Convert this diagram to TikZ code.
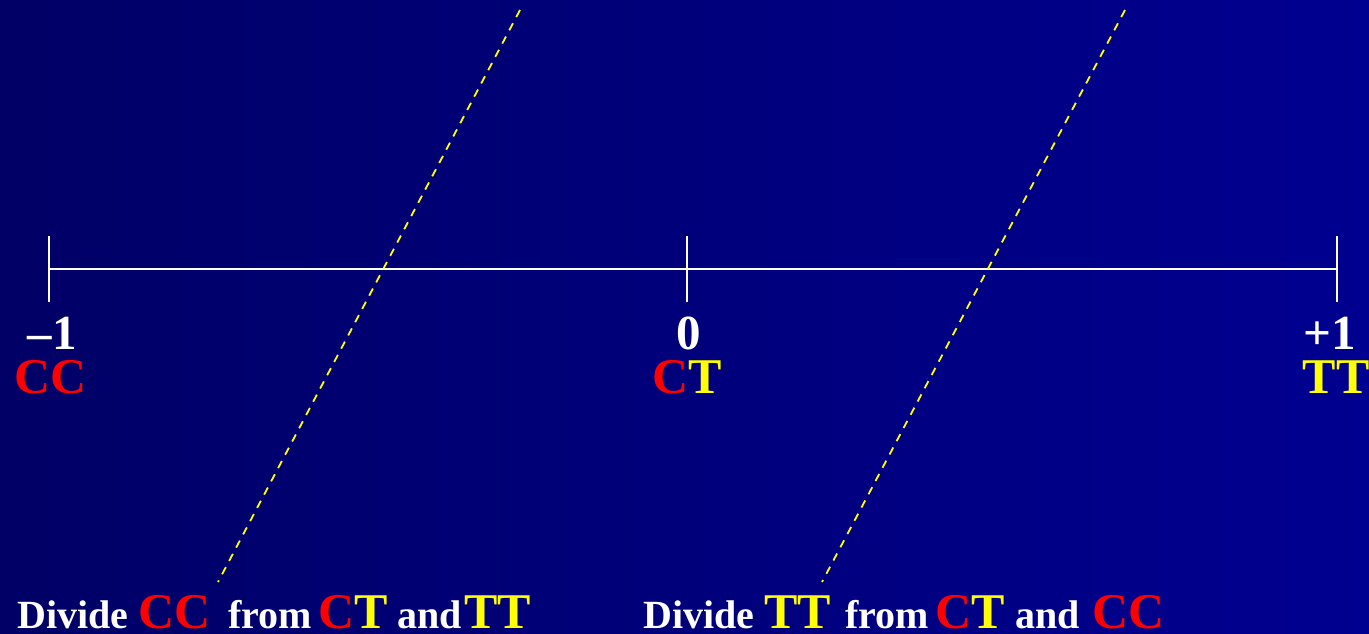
\documentclass[tikz,border=0pt]{standalone}
\usepackage{fontspec}
\setmainfont{Liberation Serif}
\definecolor{bgleft}{HTML}{000066}
\definecolor{bgright}{HTML}{000090}
\definecolor{cred}{HTML}{FF0000}
\definecolor{cyel}{HTML}{FFFF00}
\newcommand{\bigcol}[2]{\textcolor{#1}{\fontsize{50}{50}\selectfont #2}}
\begin{document}
\begin{tikzpicture}[x=1pt,y=-1pt,
  axisline/.style={white,line width=2pt},
  divline/.style={cyel,line width=1.8pt,dash pattern=on 8pt off 7pt},
  numlab/.style={white,font=\bfseries\fontsize{49}{49}\selectfont,inner sep=0pt,anchor=base},
  gtlab/.style={font=\bfseries\fontsize{50}{50}\selectfont,inner sep=0pt,anchor=base},
  caption/.style={white,font=\bfseries\fontsize{40}{40}\selectfont,inner sep=0pt,anchor=base west}]
\shade[left color=bgleft,right color=bgright] (0,0) rectangle (1369,633);
\useasboundingbox (0,0) rectangle (1369,633);
% axis
\coordinate (a) at (49,269);
\coordinate (b) at (687,269);
\coordinate (c) at (1337,269);
\draw[axisline] (a) -- (c);
\draw[axisline] (49,236) -- (49,302);
\draw[axisline] (687,236) -- (687,302);
\draw[axisline] (1337,236) -- (1337,302);
% dividing lines
\coordinate (d1t) at (520,10);
\coordinate (d1b) at (218,582);
\coordinate (d2t) at (1125,10);
\coordinate (d2b) at (822,582);
\draw[divline] (d1t) -- (d1b);
\draw[divline] (d2t) -- (d2b);
% labels
\node[numlab] (m1) at (52,349) {\char"2013 1};
\node[numlab] (z) at (689,349) {0};
\node[numlab] (p1) at (1330,349) {+1};
\node[gtlab,text=cred] (cc) at (51,393) {CC};
\node[gtlab] (ct) at (687,393) {\textcolor{cred}{C}\textcolor{cyel}{T}};
\node[gtlab,text=cyel] (tt) at (1336,393) {TT};
% captions
\node[caption] (cap1) at (17,628) {Divide \bigcol{cred}{CC}\hspace{0.45em}from\hspace{6pt}\bigcol{cred}{C}\bigcol{cyel}{T} and\hspace{2pt}\bigcol{cyel}{TT}};
\node[caption] (cap2) at (643,628) {Divide \bigcol{cyel}{TT}\hspace{4pt} from\hspace{7pt}\bigcol{cred}{C}\bigcol{cyel}{T} and\hspace{3pt} \bigcol{cred}{CC}};
\end{tikzpicture}
\end{document}
